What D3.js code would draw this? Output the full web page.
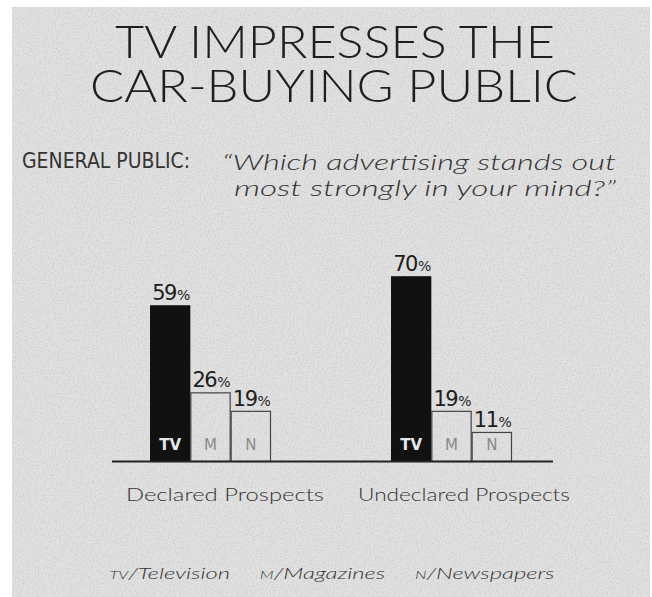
<!DOCTYPE html>
<html>
<head>
<meta charset="utf-8">
<script src="https://cdn.jsdelivr.net/npm/d3@7"></script>
<style>
  body { margin: 0; background: #fff; }
  svg { display: block; }
</style>
</head>
<body>
<div id="chart"></div>
<script>
/* TV vs magazines vs newspapers bar chart */

const groups = ["Declared Prospects", "Undeclared Prospects"];
const media = ["TV", "M", "N"];
const tvValues = [59, 70];
const magValues = [26, 19];
const newsValues = [19, 11];
const legendItems = [["TV", "Television"], ["M", "Magazines"], ["N", "Newspapers"]];

const width = 652,
  height = 597,
  margin = ({ top: 7, right: 2, bottom: 0, left: 12 });

const svg = d3.select("#chart")
  .append("svg")
  .attr("width", width)
  .attr("height", height);

// speckled paper
const defs = svg.append("defs");
const f = defs.append("filter").attr("id", "paper")
  .attr("x", 0).attr("y", 0).attr("width", 1).attr("height", 1);
f.append("feTurbulence").attr("type", "fractalNoise")
  .attr("baseFrequency", 0.6).attr("numOctaves", 2).attr("seed", 4).attr("result", "n");
f.append("feColorMatrix").attr("in", "n").attr("type", "matrix")
  .attr("values", "0 0 0 0 0.45  0 0 0 0 0.45  0 0 0 0 0.45  0 0 0 -2 1.15");
svg.append("rect")
  .attr("x", margin.left).attr("y", margin.top)
  .attr("width", width - margin.left - margin.right)
  .attr("height", height - margin.top)
  .attr("fill", "#e1e1e1");
svg.append("rect")
  .attr("x", margin.left).attr("y", margin.top)
  .attr("width", width - margin.left - margin.right)
  .attr("height", height - margin.top)
  .attr("filter", "url(#paper)")
  .attr("opacity", 0.5);

const ink = "#1e1e1e";

// title (one text, two lines)
const title = svg.append("text")
  .attr("font-family", "Lato, 'DejaVu Sans', sans-serif")
  .attr("font-weight", 300)
  .attr("font-size", 46)
  .attr("fill", ink)
  .attr("text-anchor", "middle");
title.append("tspan").attr("x", 335).attr("y", 58)
  .attr("textLength", 440).attr("lengthAdjust", "spacingAndGlyphs")
  .text("TV IMPRESSES THE");
title.append("tspan").attr("x", 334).attr("y", 102)
  .attr("textLength", 488).attr("lengthAdjust", "spacingAndGlyphs")
  .text("CAR-BUYING PUBLIC");

// subtitle
svg.append("text")
  .attr("x", 22).attr("y", 168)
  .attr("font-family", "'DejaVu Sans', sans-serif")
  .attr("font-size", 21).attr("fill", "#333")
  .attr("textLength", 168).attr("lengthAdjust", "spacingAndGlyphs")
  .text("GENERAL PUBLIC:");
const q = svg.append("text")
  .attr("font-family", "Lato, 'DejaVu Sans', sans-serif")
  .attr("font-style", "italic").attr("font-weight", 300)
  .attr("font-size", 21).attr("fill", "#333")
  .attr("text-anchor", "end");
q.append("tspan").attr("x", 616).attr("y", 170)
  .attr("textLength", 394).attr("lengthAdjust", "spacingAndGlyphs")
  .text("\u201CWhich advertising stands out");
q.append("tspan").attr("x", 616).attr("y", 196)
  .attr("textLength", 382).attr("lengthAdjust", "spacingAndGlyphs")
  .text("most strongly in your mind?\u201D");

// scales
const x0 = d3.scaleBand()
  .domain(groups)
  .range([90, 572]);

const x1 = d3.scaleBand()
  .domain(media)
  .range([0, 121]);

const y = d3.scaleLinear()
  .domain([0, 100])
  .range([461, 197]);

const rows = [];
groups.forEach((g, i) => {
  rows.push({ group: g, medium: "TV", value: tvValues[i] });
  rows.push({ group: g, medium: "M", value: magValues[i] });
  rows.push({ group: g, medium: "N", value: newsValues[i] });
});

const barX = d => x0(d.group) + (x0.bandwidth() - 121) / 2 + x1(d.medium);

const bars = svg.append("g").attr("class", "bars");
let g = bars.selectAll("g")
  .data(rows)
  .join("g");

g.append("rect")
  .attr("x", d => barX(d) + (d.medium === "TV" ? 0 : 0.5))
  .attr("y", d => y(d.value) + (d.medium === "TV" ? 0 : 0.5))
  .attr("width", d => x1.bandwidth() - (d.medium === "TV" ? 0 : 1))
  .attr("height", d => y(0) - y(d.value))
  .attr("fill", d => d.medium === "TV" ? "#111" : "none")
  .attr("stroke", d => d.medium === "TV" ? "none" : "#444")
  .attr("stroke-width", 1.2);

g.append("text")
  .text(d => d.medium)
  .attr("x", d => barX(d) + x1.bandwidth() / 2)
  .attr("y", 450)
  .attr("text-anchor", "middle")
  .attr("font-family", "'DejaVu Sans', sans-serif")
  .attr("font-weight", d => d.medium === "TV" ? "bold" : "normal")
  .attr("font-size", 15)
  .attr("fill", d => d.medium === "TV" ? "#e8e8e8" : "#8a8a8a");

const val = g.append("text")
  .attr("x", d => barX(d) + x1.bandwidth() / 2 + 1)
  .attr("y", d => y(d.value) - 5)
  .attr("text-anchor", "middle")
  .attr("font-family", "'DejaVu Sans', sans-serif")
  .attr("font-size", 21)
  .attr("fill", ink);
val.append("tspan").attr("letter-spacing", -1.5).text(d => d.value);
val.append("tspan").attr("font-size", 14).attr("dx", 1).text("%");

// baseline
svg.append("line")
  .attr("x1", 112).attr("x2", 553)
  .attr("y1", y(0) + 0.5).attr("y2", y(0) + 0.5)
  .attr("stroke", "#222").attr("stroke-width", 2);

// group labels
const glen = [198, 212];
svg.append("g").selectAll("text")
  .data(groups)
  .join("text")
  .attr("x", (d, i) => i === 0 ? 225 : 464)
  .attr("y", 501)
  .attr("text-anchor", "middle")
  .attr("font-family", "Lato, 'DejaVu Sans', sans-serif")
  .attr("font-weight", 300)
  .attr("font-size", 17)
  .attr("fill", "#333")
  .attr("textLength", (d, i) => glen[i])
  .attr("lengthAdjust", "spacingAndGlyphs")
  .text(d => d);

// legend
const leg = svg.append("text")
  .attr("x", 332).attr("y", 579)
  .attr("text-anchor", "middle")
  .attr("font-family", "Lato, 'DejaVu Sans', sans-serif")
  .attr("font-style", "italic").attr("font-weight", 300)
  .attr("font-size", 16).attr("fill", "#333")
  .attr("textLength", 445).attr("lengthAdjust", "spacingAndGlyphs");
legendItems.forEach((d, i) => {
  leg.append("tspan").attr("font-size", 11).attr("dx", i === 0 ? 0 : 20).text(d[0]);
  leg.append("tspan").text("/" + d[1]);
});
</script>
</body>
</html>
